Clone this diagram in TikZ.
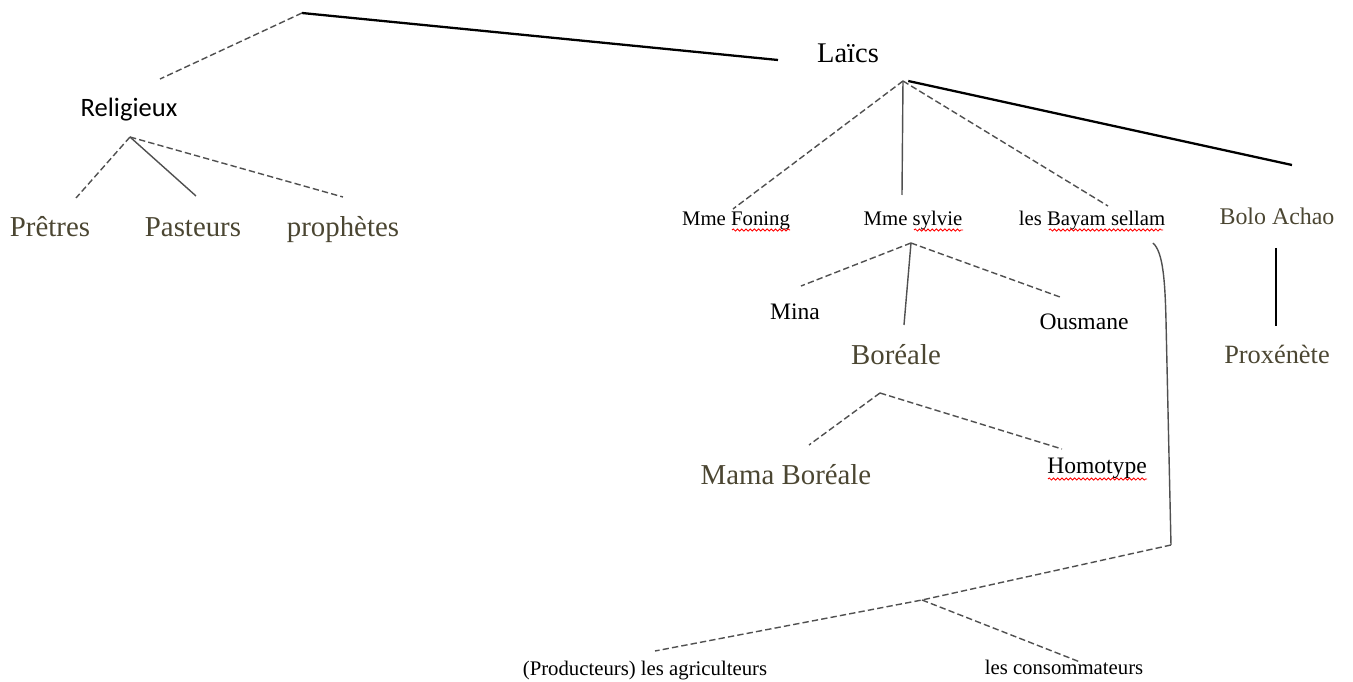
\documentclass[tikz,border=0pt]{standalone}
\usepackage{fontspec}
\setmainfont{Liberation Serif}
\newfontfamily\carlito{Carlito}
\usetikzlibrary{decorations.pathmorphing}
\definecolor{olivetext}{RGB}{75,70,50}
\definecolor{linegray}{RGB}{80,80,80}

\begin{document}
\begin{tikzpicture}[x=0.01cm, y=-0.01cm,
    person/.style={inner sep=0pt, anchor=base, font=\fontsize{5.9}{7}\selectfont},
    personmid/.style={inner sep=0pt, anchor=base, font=\fontsize{6.7}{8}\selectfont},
    group/.style={inner sep=0pt, anchor=base, text=olivetext, font=\fontsize{8.2}{10}\selectfont},
    groupmid/.style={inner sep=0pt, anchor=base, text=olivetext, font=\fontsize{6.8}{8}\selectfont},
    dashline/.style={linegray, line width=0.4pt, dash pattern=on 1.8pt off 0.9pt},
    thinline/.style={linegray, line width=0.4pt},
    thickline/.style={black, line width=0.65pt},
    typo/.style={red, line width=0.25pt, decorate,
        decoration={snake, amplitude=0.3pt, segment length=1.2pt}}]

    \useasboundingbox (0,0) rectangle (1353,682);

    % names
    \node[inner sep=0pt, anchor=base, font=\carlito\fontsize{7.55}{9}\selectfont] (rel) at (129,117) {Religieux};
    \node[group] (pre) at (50,237) {Prêtres};
    \node[group] (pas) at (193,237) {Pasteurs};
    \node[group] (pro) at (343,237) {prophètes};
    \node[inner sep=0pt, anchor=base, font=\fontsize{8.1}{10}\selectfont] (lai) at (848,63) {Laïcs};
    \node[person] (fon) at (736,226) {Mme Foning};
    \node[person] (syl) at (913,226) {Mme sylvie};
    \node[person] (bay) at (1092,226) {les Bayam sellam};
    \node[groupmid] (bol) at (1277,225) {Bolo Achao};
    \node[personmid] (min) at (795,320) {Mina};
    \node[personmid] (ous) at (1084,330) {Ousmane};
    \node[group] (bor) at (896,365) {Boréale};
    \node[group] (mam) at (786,485) {Mama Boréale};
    \node[personmid] (hom) at (1097,474) {Homotype};
    \node[groupmid, font=\fontsize{7.5}{9}\selectfont] (prx) at (1277,364) {Proxénète};
    \node[person] (agr) at (645,676) {(Producteurs) les agriculteurs};
    \node[person] (con) at (1064,675) {les consommateurs};

    % line ends
    \coordinate (top) at (302,13);
    \coordinate (relUp) at (160,79);
    \coordinate (laiL) at (778,60);
    \coordinate (relDn) at (130,137);
    \coordinate (preUp) at (76,198);
    \coordinate (pasUp) at (196,196);
    \coordinate (proUp) at (343,197);
    \coordinate (laiDn) at (903,81);
    \coordinate (fonUp) at (733,209);
    \coordinate (sylUp) at (902,195);
    \coordinate (bayUp) at (1108,206);
    \coordinate (bolUp) at (1292,165);
    \coordinate (sylDn) at (911,243);
    \coordinate (minUp) at (801,286);
    \coordinate (borUp) at (904,325);
    \coordinate (ousUp) at (1060,297);
    \coordinate (borDn) at (880,393);
    \coordinate (mamUp) at (809,445);
    \coordinate (homUp) at (1062,449);
    \coordinate (bayDn) at (1153,243);
    \coordinate (bayBot) at (1171,545);
    \coordinate (fork) at (922,600);
    \coordinate (agrUp) at (655,651);
    \coordinate (conUp) at (1080,662);
    \coordinate (bolDn) at (1276,248);
    \coordinate (prxUp) at (1276,326);

    % top
    \draw[thickline] (top) -- (laiL);
    \draw[dashline] (top) -- (relUp);

    % religieux
    \draw[dashline] (relDn) -- (preUp);
    \draw[thinline] (relDn) -- (pasUp);
    \draw[dashline] (relDn) -- (proUp);

    % laics
    \draw[dashline] (laiDn) -- (fonUp);
    \draw[thinline] (laiDn) -- (sylUp);
    \draw[dashline] (laiDn) -- (bayUp);
    \draw[thickline] ([xshift=1.5pt]laiDn) -- (bolUp);

    % mme sylvie
    \draw[dashline] (sylDn) -- (minUp);
    \draw[thinline] (sylDn) -- (borUp);
    \draw[dashline] (sylDn) -- (ousUp);

    % boreale
    \draw[dashline] (borDn) -- (mamUp);
    \draw[dashline] (borDn) -- (homUp);

    % bayam sellam
    \draw[thinline] (bayDn) .. controls (1163,252) and (1165,280) .. (1166,320) -- (bayBot);
    \draw[dashline] (bayBot) -- (fork) -- (agrUp);
    \draw[dashline] (fork) -- (conUp);

    % bolo achao
    \draw[thickline] (bolDn) -- (prxUp);

    % spelling marks
    \draw[typo] (732,230) -- (790,230);
    \draw[typo] (914,230) -- (963,230);
    \draw[typo] (1049,230) -- (1163,230);
    \draw[typo] (1048,479) -- (1147,479);

\end{tikzpicture}
\end{document}
